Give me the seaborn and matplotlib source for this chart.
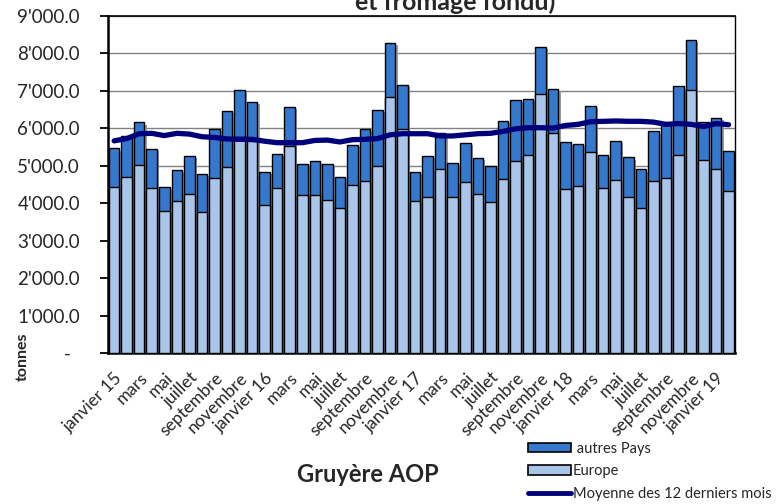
import numpy as np
import pandas as pd
import matplotlib
matplotlib.use("Agg")
import matplotlib.pyplot as plt
import matplotlib.patheffects as pe
import seaborn as sns
from matplotlib.patches import Patch
from matplotlib.lines import Line2D

months_fr = ["janvier", "février", "mars", "avril", "mai", "juin", "juillet",
             "août", "septembre", "octobre", "novembre", "décembre"]
years = [15, 16, 17, 18, 19]
periods = [f"{m} {y}" for y in years for m in months_fr][:50]

total = [5.46, 5.78, 6.15, 5.44, 4.44, 4.88, 5.26, 4.77, 5.97, 6.46, 7.01, 6.69,
         4.83, 5.31, 6.57, 5.04, 5.13, 5.05, 4.69, 5.56, 5.97, 6.49, 8.28, 7.15,
         4.84, 5.26, 5.88, 5.07, 5.60, 5.21, 5.00, 6.20, 6.76, 6.78, 8.17, 7.04,
         5.62, 5.57, 6.59, 5.29, 5.66, 5.22, 4.90, 5.91, 6.10, 7.11, 8.36, 6.15,
         6.28, 5.38]
europe = [4.44, 4.69, 5.01, 4.41, 3.78, 4.06, 4.23, 3.75, 4.67, 4.95, 5.75, 5.65,
          3.95, 4.41, 5.53, 4.22, 4.21, 4.07, 3.88, 4.48, 4.59, 5.00, 6.82, 5.97,
          4.05, 4.15, 4.90, 4.15, 4.57, 4.25, 4.04, 4.65, 5.11, 5.27, 6.92, 5.86,
          4.37, 4.46, 5.36, 4.41, 4.61, 4.17, 3.87, 4.60, 4.68, 5.29, 7.02, 5.15,
          4.90, 4.32]
moyenne = [5.66, 5.72, 5.85, 5.86, 5.80, 5.86, 5.84, 5.77, 5.75, 5.71, 5.70, 5.70,
           5.65, 5.61, 5.61, 5.61, 5.67, 5.68, 5.63, 5.69, 5.70, 5.72, 5.82, 5.85,
           5.85, 5.85, 5.79, 5.79, 5.82, 5.85, 5.86, 5.91, 5.98, 6.01, 6.01, 6.00,
           6.07, 6.10, 6.17, 6.18, 6.19, 6.18, 6.18, 6.16, 6.10, 6.12, 6.10, 6.04,
           6.12, 6.09]
total = [v * 1000 for v in total]
europe = [v * 1000 for v in europe]
moyenne = [v * 1000 for v in moyenne]

tick_labels = []
for i, p in enumerate(periods):
    m, y = p.split()
    if i % 2 == 1:
        tick_labels.append("")
    elif m == "janvier":
        tick_labels.append(p)
    else:
        tick_labels.append(m)

df = pd.DataFrame({"periode": periods, "total": total, "europe": europe,
                   "moyenne": moyenne})

sns.set_style("white")
plt.rcParams["font.family"] = ["Lato", "DejaVu Sans"]

c_autres = "#3579CE"
c_europe = "#A9C6EA"
c_line = "#00007A"

fig = plt.figure(figsize=(7.76, 5.04), dpi=100)
ax = fig.add_axes([0.139, 0.2996, 0.808, 0.6694])

sns.barplot(data=df, x="periode", y="total", color=c_autres, edgecolor="black",
            linewidth=1.0, width=0.84, saturation=1, ax=ax, zorder=3)
n_first = len(ax.patches)
sns.barplot(data=df, x="periode", y="europe", color=c_europe, edgecolor="black",
            linewidth=1.0, width=0.84, saturation=1, ax=ax, zorder=3)
for i, p in enumerate(ax.patches):
    if i < n_first:
        p.set_path_effects([pe.SimplePatchShadow(offset=(1.6, -1.6),
                                                 shadow_rgbFace="#9a9a9a", alpha=1.0),
                            pe.Normal()])
sns.lineplot(x=np.arange(len(periods)), y=df["moyenne"], color=c_line,
             linewidth=3.8, ax=ax, zorder=5)

ax.set_xlim(-0.5, len(periods) - 0.5)
ax.set_ylim(0, 9000)
ax.set_yticks(np.arange(0, 9001, 1000))
ax.set_yticklabels(["-  " if v == 0 else f"{v // 1000}'000.0" for v in range(0, 9001, 1000)],
                   fontsize=13.5)
ax.yaxis.grid(True, color="#808080", linewidth=1.0, zorder=0)
ax.set_axisbelow(True)

ax.set_xticks(np.arange(len(periods)))
ax.set_xticklabels(tick_labels, rotation=45, ha="right", rotation_mode="anchor",
                   fontsize=12.5)
ax.tick_params(axis="x", which="major", length=0, pad=12)
ax.set_xticks(np.arange(len(periods) + 1) - 0.5, minor=True)
ax.tick_params(axis="x", which="minor", length=5, width=1.3, color="black",
               direction="out")
ax.tick_params(axis="y", which="major", length=6, width=1.3, color="black",
               direction="out", left=True, pad=14)
ax.set_xlabel("")
ax.set_ylabel("tonnes", fontsize=11.5, fontweight="bold")
ax.yaxis.set_label_coords(-0.124, -0.012)

for side in ["left", "bottom", "right", "top"]:
    ax.spines[side].set_visible(True)
    ax.spines[side].set_color("black")
ax.spines["left"].set_linewidth(1.8)
ax.spines["bottom"].set_linewidth(1.8)
ax.spines["right"].set_linewidth(1.0)
ax.spines["top"].set_linewidth(1.2)

fig.text(0.587, 0.980, "et fromage fondu)", ha="center", va="baseline",
         fontsize=18, fontweight="bold")
fig.text(0.474, 0.0437, "Gruyère AOP", ha="center", va="baseline",
         fontsize=17, fontweight="bold")

handles = [Patch(facecolor=c_autres, edgecolor="black", linewidth=1.2),
           Patch(facecolor=c_europe, edgecolor="black", linewidth=1.2),
           Line2D([0], [0], color=c_line, linewidth=3.5)]
labels = [" autres Pays", "Europe", "Moyenne des 12 derniers mois"]
fig.legend(handles, labels, loc="upper left", bbox_to_anchor=(0.680, 0.124),
           frameon=False, fontsize=10.5, handlelength=3.0, handleheight=0.6,
           handletextpad=0.1, labelspacing=0.6, borderpad=0, borderaxespad=0)

fig.savefig("out.png", dpi=100)
